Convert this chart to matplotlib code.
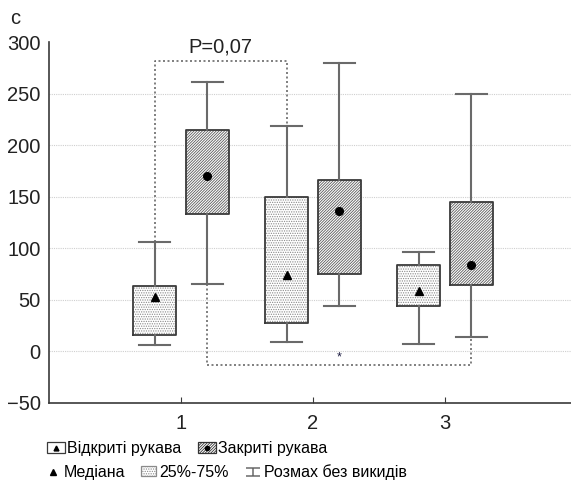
import matplotlib.pyplot as plt
from matplotlib.patches import Patch
from matplotlib.lines import Line2D
from matplotlib.legend_handler import HandlerTuple
from matplotlib.path import Path
import numpy as np

plt.rcParams['font.family'] = ['Liberation Sans', 'DejaVu Sans']
plt.rcParams['hatch.linewidth'] = 0.6

groups = np.array([1, 2, 3])
tick_labels = ["1", "2", "3"]

# open sleeves (Відкриті рукава)
open_lo = [6, 9, 7]
open_q1 = [16, 28, 44]
open_med = [53, 74, 59]
open_q3 = [63, 150, 84]
open_hi = [106, 219, 96]

# closed sleeves (Закриті рукава)
closed_lo = [65, 44, 14]
closed_q1 = [133, 75, 64]
closed_med = [170, 136, 84]
closed_q3 = [215, 166, 145]
closed_hi = [261, 280, 250]

top_bracket = 282
bottom_bracket = -13
p_text = "P=0,07"
star_text = "*"

GRAY = "#6a6a6a"
EDGE = "#3a3a3a"
DIAG = "////////////"
DOTS = "......."


def make_stats(lo, q1, med, q3, hi):
    return [dict(whislo=a, q1=b, med=c, q3=d, whishi=e, fliers=[])
            for a, b, c, d, e in zip(lo, q1, med, q3, hi)]


def main():
    fig = plt.figure(figsize=(5.71, 4.84), dpi=100)
    ax = fig.add_axes([49 / 571, 1 - 403 / 484, 522 / 571, 361 / 484])

    pos_open = groups - 0.2
    pos_closed = groups + 0.2
    w = 0.325

    # hatched fills
    ax.bar(pos_open, np.subtract(open_q3, open_q1), bottom=open_q1, width=w,
           color="white", edgecolor="#8a8a8a", hatch=DOTS, linewidth=0, zorder=2)
    ax.bar(pos_closed, np.subtract(closed_q3, closed_q1), bottom=closed_q1, width=w,
           color="white", edgecolor="#5a5a5a", hatch=DIAG, linewidth=0, zorder=2)

    common = dict(widths=w, capwidths=0.23, showfliers=False, manage_ticks=False,
                  boxprops=dict(color=EDGE, linewidth=1.3),
                  whiskerprops=dict(color=GRAY, linewidth=1.5),
                  capprops=dict(color=GRAY, linewidth=1.5),
                  medianprops=dict(linestyle="none"), zorder=3)
    ax.bxp(make_stats(open_lo, open_q1, open_med, open_q3, open_hi),
           positions=pos_open, **common)
    ax.bxp(make_stats(closed_lo, closed_q1, closed_med, closed_q3, closed_hi),
           positions=pos_closed, **common)

    ax.plot(pos_open, open_med, linestyle="none", marker="^", color="black",
            markersize=6, zorder=4)
    ax.plot(pos_closed, closed_med, linestyle="none", marker="o", color="black",
            markersize=5.5, zorder=4)

    # significance brackets
    br = dict(color=GRAY, linestyle=(0, (1.2, 1.5)), linewidth=1.2, zorder=1)
    ax.plot([pos_open[0], pos_open[0], pos_open[1], pos_open[1]],
            [open_hi[0], top_bracket, top_bracket, open_hi[1]], **br)
    ax.plot([pos_closed[0], pos_closed[0], pos_closed[2], pos_closed[2]],
            [closed_lo[0], bottom_bracket, bottom_bracket, closed_lo[2]], **br)
    ax.text((pos_open[0] + pos_open[1]) / 2, top_bracket + 4, p_text,
            ha="center", va="bottom", fontsize=14.5, color="#222222")
    ax.text((pos_closed[0] + pos_closed[2]) / 2, bottom_bracket + 1, star_text,
            ha="center", va="bottom", fontsize=9, color="#1a1a40")

    ax.set_xlim(0, 3.955)
    ax.set_ylim(-50, 300)
    ax.set_yticks(np.arange(-50, 301, 50))
    ax.set_xticks(groups)
    ax.set_xticklabels(tick_labels)
    ax.tick_params(axis="both", labelsize=14.5, colors="#222222")
    ax.tick_params(axis="y", length=0, pad=6)
    ax.tick_params(axis="x", direction="in", length=4, color=EDGE, pad=8)
    ax.grid(axis="y", color="#cfcfcf", linestyle=(0, (1, 1)), linewidth=0.8, zorder=0)
    ax.set_axisbelow(True)
    ax.yaxis.get_gridlines()[-1].set_visible(False)
    ax.yaxis.get_gridlines()[0].set_visible(False)
    for s in ["top", "right"]:
        ax.spines[s].set_visible(False)
    for s in ["left", "bottom"]:
        ax.spines[s].set_color(EDGE)
        ax.spines[s].set_linewidth(1.2)

    ax.set_ylabel("с", rotation=0, fontsize=14.5, color="#222222",
                  va="center", ha="center")
    ax.yaxis.set_label_coords(-0.065, 1.066)

    # legends
    ibeam = Path([(-1, 0.5), (1, 0.5), (0, 0.5), (0, -0.5), (-1, -0.5), (1, -0.5)],
                 [Path.MOVETO, Path.LINETO, Path.MOVETO, Path.LINETO,
                  Path.MOVETO, Path.LINETO])
    p_open = Patch(facecolor="white", edgecolor=EDGE, linewidth=0.9)
    p_closed = Patch(facecolor="white", edgecolor="#333333", hatch=DIAG, linewidth=0.9)
    p_dots = Patch(facecolor="white", edgecolor="#8a8a8a", hatch=DOTS, linewidth=0.9)
    m_tri = Line2D([], [], linestyle="none", marker="^", color="black", markersize=3.5)
    m_dot = Line2D([], [], linestyle="none", marker="o", color="black", markersize=3)
    m_tri2 = Line2D([], [], linestyle="none", marker="^", color="black", markersize=4)
    m_wh = Line2D([], [], linestyle="none", marker=ibeam, color=GRAY,
                  markersize=10.5, markeredgewidth=1.1, fillstyle="none")

    fs = 11.5
    fig.legend(handles=[(p_open, m_tri), (p_closed, m_dot)],
               labels=["Відкриті рукава", "Закриті рукава"],
               handler_map={tuple: HandlerTuple(ndivide=1)},
               ncol=2, loc="upper left", bbox_to_anchor=(44 / 571, 1 - 438 / 484),
               borderaxespad=0, frameon=False, fontsize=fs, handlelength=1.1,
               handleheight=0.65, handletextpad=0.15, columnspacing=1.05, borderpad=0.2)
    fig.legend(handles=[m_tri2, p_dots, m_wh],
               labels=["Медіана", "25%-75%", "Розмах без викидів"],
               ncol=3, loc="upper left", bbox_to_anchor=(42 / 571, 1 - 461 / 484),
               borderaxespad=0, frameon=False, fontsize=fs, handlelength=0.94,
               handleheight=0.6, handletextpad=0.22, columnspacing=1.0, borderpad=0.2)

    fig.savefig("out.png", dpi=100)


if __name__ == "__main__":
    main()
